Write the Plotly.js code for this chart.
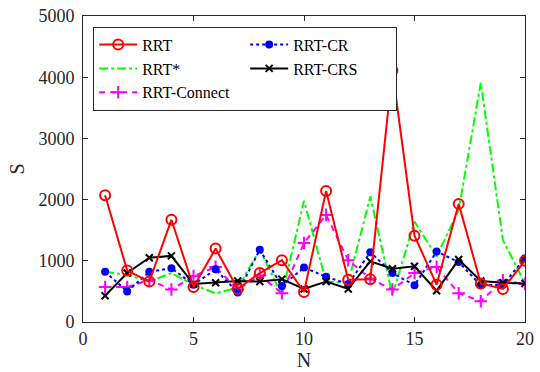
<!DOCTYPE html>
<html>
<head>
<meta charset="utf-8">
<script src="https://cdn.plot.ly/plotly-3.0.1.min.js"></script>
<style>html,body{margin:0;padding:0;background:#fff;}#chart{width:540px;height:372px;}</style>
</head>
<body>
<div id="chart"></div>
<script>
const N = [1,2,3,4,5,6,7,8,9,10,11,12,13,14,15,16,17,18,19,20];
const rrt = [2070, 840, 660, 1670, 570, 1200, 540, 800, 1010, 490, 2140, 690, 700, 4110, 1410, 610, 1930, 630, 540, 1000];
const rrtStar = [820, 770, 660, 800, 610, 470, 560, 1180, 440, 1980, 660, 640, 2050, 440, 1640, 1070, 1830, 3910, 1340, 630];
const rrtConnect = [570, 570, 690, 530, 750, 900, 530, 760, 470, 1290, 1750, 1010, 710, 530, 800, 900, 470, 340, 680, 620];
const rrtCR = [820, 500, 820, 880, 610, 860, 480, 1180, 590, 890, 740, 620, 1140, 800, 600, 1150, 980, 600, 610, 1040];
const rrtCRS = [430, 800, 1050, 1080, 620, 640, 670, 660, 700, 540, 660, 540, 990, 870, 910, 510, 1020, 670, 640, 630];
const xTicks = [0, 5, 10, 15, 20];
const yTicks = [0, 1000, 2000, 3000, 4000, 5000];

const SERIF = "Liberation Serif";

const traces = [
  {x: N, y: rrtStar, name: 'RRT*', mode: 'lines', legendrank: 3,
   line: {color: '#00ff00', width: 2, dash: 'dashdot'}},
  {x: N, y: rrtConnect, name: 'RRT-Connect', mode: 'lines+markers', legendrank: 5,
   line: {color: '#ff00ff', width: 2, dash: '6px,5px'},
   marker: {symbol: 'cross-thin', size: 9, line: {color: '#ff00ff', width: 2}}},
  {x: N, y: rrtCR, name: 'RRT-CR', mode: 'lines+markers', legendrank: 2,
   line: {color: '#0000ff', width: 2, dash: 'dot'},
   marker: {symbol: 'circle', size: 8, color: '#0000ff'}},
  {x: N, y: rrtCRS, name: 'RRT-CRS', mode: 'lines+markers', legendrank: 4,
   line: {color: '#000000', width: 2},
   marker: {symbol: 'x-thin', size: 7, line: {color: '#000000', width: 2}}},
  {x: N, y: rrt, name: 'RRT', mode: 'lines+markers', legendrank: 1,
   line: {color: '#ff0000', width: 2},
   marker: {symbol: 'circle-open', size: 10, color: '#ff0000', line: {width: 2}}}
];

const axisCommon = {
  showline: true, mirror: 'ticks', linecolor: '#262626', linewidth: 1,
  ticks: 'inside', ticklen: 5, tickcolor: '#262626', showgrid: false, zeroline: false,
  tickfont: {family: SERIF, size: 18, color: '#262626'}
};

const layout = {
  width: 540, height: 372,
  margin: {l: 83, r: 15, t: 16, b: 50},
  paper_bgcolor: '#ffffff', plot_bgcolor: '#ffffff',
  showlegend: true,
  legend: {
    orientation: 'h', x: 0.023, y: 0.965, xanchor: 'left', yanchor: 'top',
    bgcolor: '#ffffff', bordercolor: '#262626', borderwidth: 1,
    font: {family: SERIF, size: 16, color: '#000000'},
    itemwidth: 38, entrywidth: 98, entrywidthmode: 'pixels', tracegroupgap: 0,
    traceorder: 'normal'
  },
  xaxis: Object.assign({}, axisCommon, {
    range: [0, 20], tickvals: xTicks, ticktext: xTicks.map(String),
    title: {text: 'N', font: {family: SERIF, size: 20, color: '#262626'}, standoff: 0}
  }),
  yaxis: Object.assign({}, axisCommon, {
    range: [0, 5000], tickvals: yTicks, ticktext: yTicks.map(String),
    ticklabelstandoff: 4,
    title: {text: 'S', font: {family: SERIF, size: 20, color: '#262626'}, standoff: 8}
  })
};

Plotly.newPlot('chart', traces, layout, {displayModeBar: false, staticPlot: true});
</script>
</body>
</html>
